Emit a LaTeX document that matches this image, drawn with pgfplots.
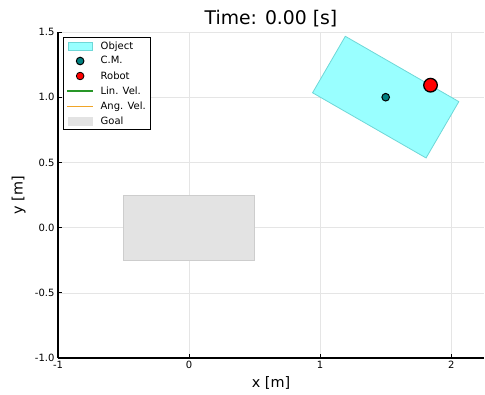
\documentclass[border=0pt]{standalone}
\usepackage{pgfplots}
\pgfplotsset{compat=1.18}
\usepackage{fontspec}
\setmainfont{DejaVu Sans}
\definecolor{objfill}{RGB}{153,255,255}
\definecolor{objedge}{RGB}{110,215,215}
\definecolor{goalfill}{RGB}{227,227,227}
\definecolor{goaledge}{RGB}{205,205,205}
\definecolor{cmcol}{RGB}{0,128,128}
\definecolor{lingreen}{RGB}{40,150,40}
\definecolor{angorange}{RGB}{240,165,40}
\begin{document}
\begin{tikzpicture}
\begin{axis}[
  scale only axis, width=426bp, height=326bp,
  xmin=-1, xmax=2.25, ymin=-1, ymax=1.5,
  xtick={-1,0,1,2}, ytick={-1,-0.5,0,0.5,1,1.5},
  yticklabel style={/pgf/number format/.cd, fixed, fixed zerofill, precision=1},
  xticklabel style={/pgf/number format/.cd, fixed, precision=0},
  /pgf/number format/assume math mode=true,
  axis x line*=bottom, axis y line*=left,
  axis line style={line width=1.2bp, -},
  tick align=inside, major tick length=4bp, tick style={black, line width=0.8bp},
  grid=major, grid style={black!10, line width=0.5bp},
  ticklabel style={font=\fontsize{10bp}{12bp}\selectfont},
  every axis title shift=0pt,
  title={Time: 0.00 [s]},
  title style={at={(axis description cs:0.5,1.0215)}, anchor=base, font=\fontsize{18.8bp}{22bp}\selectfont},
  xlabel={x [m]},
  xlabel style={at={(axis description cs:0.5,-0.092)}, anchor=base, font=\fontsize{14.4bp}{17bp}\selectfont},
  ylabel={y [m]},
  ylabel style={at={(axis description cs:-0.0833,0.5)}, anchor=base, font=\fontsize{14.4bp}{17bp}\selectfont},
  legend style={at={(axis description cs:0,1)}, anchor=north west, xshift=5bp, yshift=-5bp,
    draw=black, line width=1bp, fill=white,
    font=\fontsize{10bp}{12bp}\selectfont, cells={anchor=west}, row sep=2bp},
]
% Goal region
\addplot[fill=goalfill, draw=goaledge, line width=0.6bp, forget plot] coordinates {(-0.5,-0.25) (0.5,-0.25) (0.5,0.25) (-0.5,0.25) (-0.5,-0.25)} --cycle;
% Object (1.0 x 0.5 rectangle rotated -30 deg about (1.5,1.0))
\addplot[fill=objfill, draw=objedge, line width=0.8bp, forget plot] coordinates {(0.942,1.034) (1.192,1.467) (2.058,0.966) (1.808,0.534) (0.942,1.034)} --cycle;
% Centre of mass
\addplot[only marks, mark=*, mark size=3.8bp, mark options={fill=cmcol, draw=black, line width=1bp}, forget plot] coordinates {(1.5,1.0)};
% Robot
\addplot[only marks, mark=*, mark size=6.8bp, mark options={fill=red, draw=black, line width=1.3bp}, forget plot] coordinates {(1.842,1.092)};
% Legend
\addlegendimage{legend image code/.code={\draw[fill=objfill, draw=objedge, line width=0.8bp] (1bp,-3.9bp) rectangle (25bp,3.9bp); \path (31bp,0bp);}}
\addlegendentry{Object}
\addlegendimage{legend image code/.code={\draw[fill=cmcol, draw=black, line width=1bp] (13bp,0bp) circle (3.8bp); \path (0bp,0bp) (31bp,0bp);}}
\addlegendentry{C.M.}
\addlegendimage{legend image code/.code={\draw[fill=red, draw=black, line width=0.8bp] (13bp,0bp) circle (3.8bp); \path (0bp,0bp) (31bp,0bp);}}
\addlegendentry{Robot}
\addlegendimage{legend image code/.code={\draw[lingreen, line width=1.3bp] (0bp,0bp) -- (26bp,0bp); \path (31bp,0bp);}}
\addlegendentry{Lin. Vel.}
\addlegendimage{legend image code/.code={\draw[angorange, line width=1.3bp] (0bp,0bp) -- (26bp,0bp); \path (31bp,0bp);}}
\addlegendentry{Ang. Vel.}
\addlegendimage{legend image code/.code={\draw[fill=goalfill, draw=goalfill, line width=0.8bp] (1bp,-3.9bp) rectangle (25bp,3.9bp); \path (31bp,0bp);}}
\addlegendentry{Goal}
\end{axis}
\pgfresetboundingbox
\path ([shift={(-58bp,-37bp)}]current axis.south west) rectangle ([shift={(1bp,32bp)}]current axis.north east);
\end{tikzpicture}
\end{document}
